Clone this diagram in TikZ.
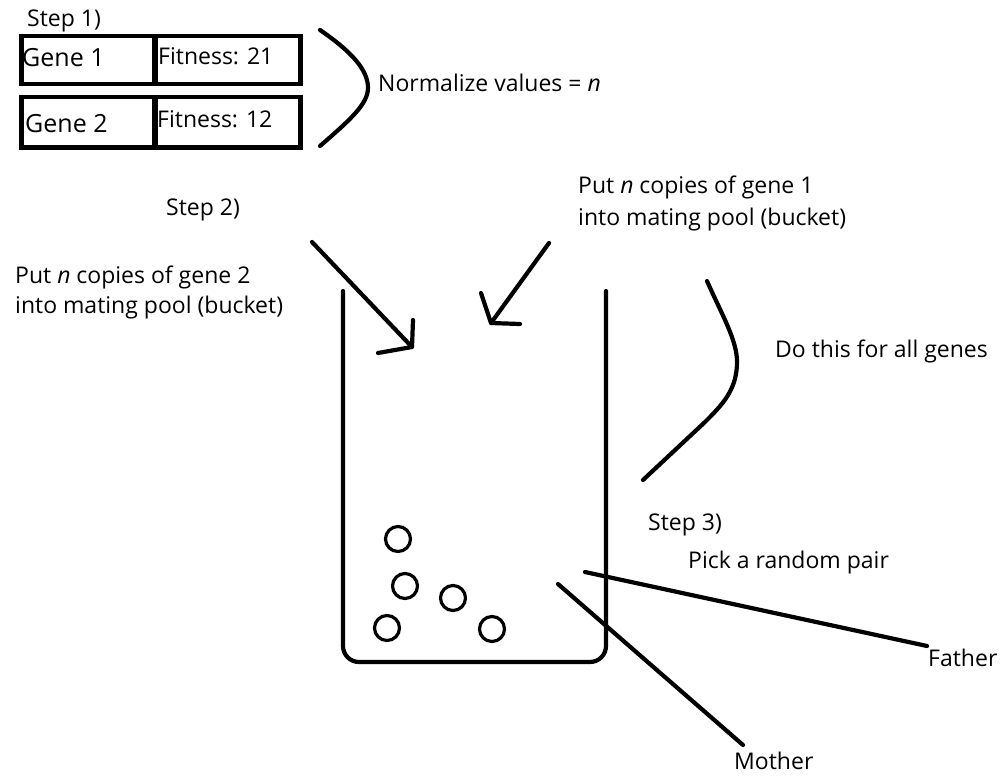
\documentclass[tikz,border=0pt]{standalone}
\usepackage{fontspec}
\setmainfont{Open Sans}
\begin{document}
\begin{tikzpicture}[x=1pt,y=-1pt,
  ink/.style={line width=4.2pt,line cap=round,line join=round},
  lbl/.style={anchor=base west,inner sep=0pt,font=\fontsize{23}{27}\selectfont},
  cellbox/.style={draw,line width=4.5pt,minimum height=48pt,inner sep=0pt,anchor=north west},
  ball/.style={circle,draw,line width=3.2pt,minimum size=25pt,inner sep=0pt}]
\useasboundingbox (0,0) rectangle (1000,781);
% Step 1 boxes
\node[lbl] (s1) at (27,27) {Step 1)};
\node[cellbox,minimum width=134pt] (g1) at (19,34) {};
\node[cellbox,minimum width=146pt] (f1) at (152,34) {};
\node[cellbox,minimum width=134pt,minimum height=50pt] (g2) at (19,95) {};
\node[cellbox,minimum width=146pt,minimum height=50pt] (f2) at (152,95) {};
\node[lbl,font=\fontsize{25}{29}\selectfont] (g1t) at (22,67) {Gene 1};
\node[lbl] (f1t) at (158,65) {Fitness: 21};
\node[lbl,font=\fontsize{25}{29}\selectfont] (g2t) at (25,132) {Gene 2};
\node[lbl] (f2t) at (157,128) {Fitness: 12};
% bracket 1
\coordinate (b1a) at (320,30);
\coordinate (b1b) at (320,146);
\draw[ink] (b1a) .. controls (352,52) and (368,70) .. (368,88) .. controls (368,104) and (350,120) .. (b1b);
\node[lbl] (norm) at (378,92) {Normalize values = \textit{n}};
% Step 2
\node[lbl] (s2) at (166,215) {Step 2)};
\node[lbl] (p2) at (15,283) {Put \textit{n} copies of gene 2};
\node[lbl] (p2b) at (15,313) {into mating pool (bucket)};
\node[lbl] (p1) at (578,193) {Put \textit{n} copies of gene 1};
\node[lbl] (p1b) at (578,225) {into mating pool (bucket)};
% arrows
\coordinate (a1s) at (312,242);
\coordinate (a1t) at (412,347);
\coordinate (a1h1) at (413,320);
\coordinate (a1h2) at (378,353);
\draw[ink] (a1s) -- (a1t);
\draw[ink] (a1h1) -- (a1t) -- (a1h2);
\coordinate (a2s) at (549,243);
\coordinate (a2t) at (491,323);
\coordinate (a2h1) at (481,293);
\coordinate (a2h2) at (520,324);
\draw[ink] (a2s) -- (a2t);
\draw[ink] (a2h1) -- (a2t) -- (a2h2);
% bucket
\draw[ink,rounded corners=16pt] (343,291) -- (343,662) -- (606,662) -- (606,291);
% balls
\node[ball] (c1) at (398,539) {};
\node[ball] (c2) at (405,586) {};
\node[ball] (c3) at (453,598) {};
\node[ball] (c4) at (387,628) {};
\node[ball] (c5) at (492,629) {};
% bracket 2
\draw[ink] (707,281) .. controls (722,315) and (737,340) .. (737,362) .. controls (737,390) and (722,405) .. (705,422) -- (643,480);
\node[lbl] (dothis) at (775,357) {Do this for all genes};
% step 3
\node[lbl] (s3) at (648,530) {Step 3)};
\node[lbl] (pick) at (688,568) {Pick a random pair};
\node[lbl] (father) at (928,666) {Father};
\node[lbl] (mother) at (734,769) {Mother};
\coordinate (fs) at (585,572);
\coordinate (ms) at (558,584);
\coordinate (fe) at (927,646);
\coordinate (me) at (743,745);
\draw[ink] (fs) -- (fe);
\draw[ink] (ms) -- (me);
\end{tikzpicture}
\end{document}
